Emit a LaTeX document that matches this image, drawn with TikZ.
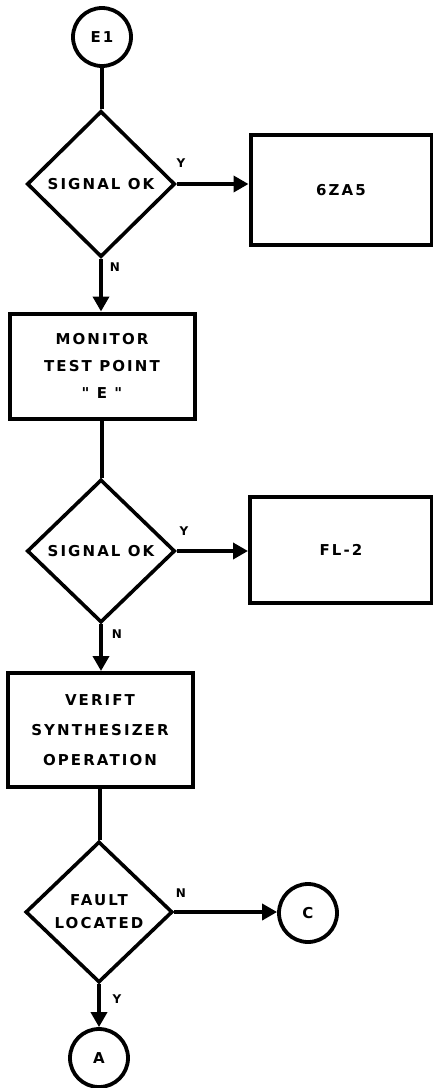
\documentclass[tikz,border=0pt]{standalone}
\usepackage{fontspec}
\newfontfamily\stencil[LetterSpace=14]{DejaVu Sans}
\usetikzlibrary{shapes.geometric,arrows.meta}
\begin{document}
\begin{tikzpicture}[x=1pt,y=-1pt,
  every node/.style={font=\stencil\bfseries\fontsize{15}{17}\selectfont},
  conn/.style={line width=3.6pt},
  arr/.style={conn,-{Triangle[length=15pt,width=16pt]}},
  dec/.style={draw,diamond,line width=3.6pt,minimum width=148pt,minimum height=146pt,inner sep=0pt,align=center},
  box/.style={draw,rectangle,line width=4pt,inner sep=0pt,align=center},
  term/.style={draw,circle,line width=3.8pt,minimum size=58pt,inner sep=0pt},
  lbl/.style={font=\stencil\bfseries\fontsize{12}{14}\selectfont,inner sep=0pt}]
\useasboundingbox (0,0) rectangle (433,1088);
% nodes
\node[term] (E1) at (102,37) {E1};
\node[dec] (D1) at (101,184) {SIGNAL OK};
\node[box,minimum width=181pt,minimum height=110pt] (B1) at (341,190) {6ZA5};
\node[box,minimum width=185pt,minimum height=105pt,font=\stencil\bfseries\fontsize{15}{27}\selectfont] (M) at (102,366) {MONITOR\\TEST POINT\\" E "};
\node[dec,minimum height=143pt] (D2) at (101,551) {SIGNAL OK};
\node[box,minimum width=182pt,minimum height=106pt] (B2) at (341,550) {FL-2};
\node[box,minimum width=185pt,minimum height=114pt,font=\stencil\bfseries\fontsize{15}{30}\selectfont] (V) at (100,730) {VERIFT\\SYNTHESIZER\\OPERATION};
\node[dec,minimum width=147pt,minimum height=141pt,font=\stencil\bfseries\fontsize{15}{23}\selectfont] (D3) at (99,912) {FAULT\\LOCATED};
\node[term] (C) at (308,913) {C};
\node[term] (A) at (99,1058) {A};
% connectors
\draw[conn] (E1.south) -- (E1.south |- D1.north);
\draw[arr] (D1.east) -- (D1.east -| B1.west);
\draw[arr] (D1.south) -- (D1.south |- M.north);
\draw[conn] (M.south) -- (M.south |- D2.north);
\draw[arr] (D2.east) -- (D2.east -| B2.west);
\draw[arr] (D2.south) -- (D2.south |- V.north);
\draw[conn] (V.south) -- (V.south |- D3.north);
\draw[arr] (D3.east) -- (D3.east -| C.west);
\draw[arr] (D3.south) -- (D3.south |- A.north);
% branch labels
\node[lbl] (y1) at (181,163) {Y};
\node[lbl] (n1) at (115,267) {N};
\node[lbl] (y2) at (184,531) {Y};
\node[lbl] (n2) at (117,634) {N};
\node[lbl] (n3) at (181,893) {N};
\node[lbl] (y3) at (117,999) {Y};
\end{tikzpicture}
\end{document}
